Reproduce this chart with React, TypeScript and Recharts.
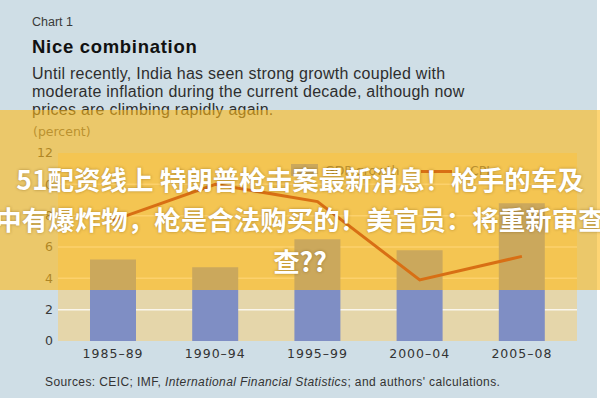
import React from 'react';
import { ComposedChart, Bar, Line, XAxis, YAxis, CartesianGrid } from 'recharts';

const PERIODS = ['1985–89', '1990–94', '1995–99', '2000–04', '2005–08'];
const GDP_GROWTH = [5.2, 4.7, 6.5, 5.8, 8.8];
const CPI = [7.7, 10.0, 8.9, 3.9, 5.4];
const SERIES_NAMES = ['GDP growth', 'CPI'];
const Y_TICKS = [0, 2, 4, 6, 8, 10, 12];
const GRID_VALUES = [2, 4, 6, 8, 10];
const EDGE_TICKS = [0, 1, 2, 3, 4, 5];

const BODY_LINES = [
  'Until recently, India has seen strong growth coupled with',
  'moderate inflation during the current decade, although now',
  'prices are climbing rapidly again.',
];
const BANNER_LINES = [
  '51配资线上 特朗普枪击案最新消息！枪手的车及',
  '中有爆炸物，枪是合法购买的！美官员：将重新审查',
  '查??',
];

const data = PERIODS.map((period, i) => ({ period, gdp: GDP_GROWTH[i], cpi: CPI[i] }));

const BAR_COLOR = '#7f8ec4';
const LINE_COLOR = '#a00010';
const SANS = '"Liberation Sans", Arial, sans-serif';
const WIDE = '"DejaVu Sans", Verdana, sans-serif';

const abs = (left: number, top: number, extra: React.CSSProperties = {}): React.CSSProperties => ({
  position: 'absolute',
  left,
  top,
  ...extra,
});

const App = () => {
  return (
    <div
      style={{
        position: 'fixed',
        left: 0,
        top: 0,
        width: 600,
        height: 400,
        overflow: 'hidden',
        background: '#ffffff',
        fontFamily: SANS,
      }}
    >
      <div style={abs(0, 0, { width: 597, height: 398, background: '#cfdee6' })} />

      <div style={abs(32, 16, { fontSize: 12.5, lineHeight: 1, color: '#3a3a3a' })}>Chart 1</div>
      <div style={abs(32, 38, { fontSize: 18.5, lineHeight: 1, fontWeight: 700, letterSpacing: 0.7, color: '#111' })}>
        Nice combination
      </div>
      <div
        style={abs(32, 65, {
          fontSize: 16,
          lineHeight: '18px',
          letterSpacing: 0.25,
          color: '#2e2e2e',
          whiteSpace: 'nowrap',
        })}
      >
        {BODY_LINES.map((l) => (
          <div key={l}>{l}</div>
        ))}
      </div>
      <div style={abs(33, 126, { fontSize: 12.5, lineHeight: 1, color: '#555', fontFamily: WIDE })}>(percent)</div>

      <div style={abs(0, 0)}>
        <ComposedChart
          width={600}
          height={400}
          data={data}
          margin={{ top: 153, right: 23, bottom: 29, left: 8 }}
        >
          <CartesianGrid
            vertical={false}
            horizontalValues={GRID_VALUES}
            stroke="#faf6ec"
            strokeWidth={1.5}
            fill="#e5d6aa"
          />
          <XAxis
            dataKey="period"
            axisLine={false}
            tickLine={false}
            tickSize={0}
            tickMargin={8}
            height={30}
            interval={0}
            padding={{ left: 4, right: 4 }}
            tick={{ fill: '#333', fontSize: 12.5, fontFamily: WIDE, letterSpacing: 1 }}
          />
          <XAxis
            xAxisId="edge"
            type="number"
            domain={[0, 5]}
            ticks={EDGE_TICKS}
            allowDataOverflow
            tick={false}
            axisLine={false}
            tickLine={{ stroke: '#555', strokeWidth: 2 }}
            tickSize={5}
            mirror
            height={0}
            padding={{ left: 4, right: 4 }}
          />
          <YAxis
            domain={[0, 12]}
            ticks={Y_TICKS}
            interval={0}
            axisLine={false}
            tickLine={false}
            tickSize={0}
            tickMargin={5}
            width={50}
            tick={{ fill: '#3a3a3a', fontSize: 12.5, fontFamily: WIDE }}
          />
          <Bar dataKey="gdp" name={SERIES_NAMES[0]} fill={BAR_COLOR} barSize={46} isAnimationActive={false} />
          <Line
            dataKey="cpi"
            name={SERIES_NAMES[1]}
            type="linear"
            stroke={LINE_COLOR}
            strokeWidth={3}
            dot={false}
            activeDot={false}
            isAnimationActive={false}
          />
        </ComposedChart>
      </div>

      {/* legend */}
      <div style={abs(291, 164, { width: 27, height: 12, background: BAR_COLOR })} />
      <div style={abs(325, 165, { fontSize: 12.5, lineHeight: '12px', color: '#555', fontFamily: WIDE })}>
        {SERIES_NAMES[0]}
      </div>
      <div style={abs(421, 169.5, { width: 31, height: 3, background: LINE_COLOR })} />
      <div style={abs(470, 165, { fontSize: 12.5, lineHeight: '12px', color: '#555', fontFamily: WIDE })}>
        {SERIES_NAMES[1]}
      </div>

      <div
        style={abs(45, 376, {
          fontSize: 12,
          lineHeight: 1,
          letterSpacing: 0.4,
          color: '#333',
          whiteSpace: 'nowrap',
        })}
      >
        Sources: CEIC; IMF, <i>International Financial Statistics</i>; and authors' calculations.
      </div>

      {/* banner overlay */}
      <div style={abs(0, 110, { width: 600, height: 180, background: 'rgba(254,185,23,0.6)' })} />
      {BANNER_LINES.map((line, i) => (
        <div
          key={i}
          style={abs(0, [166, 206, 248][i], {
            width: 600,
            height: 26,
            display: 'flex',
            justifyContent: 'center',
            overflow: 'visible',
          })}
        >
          <span
            style={{
              whiteSpace: 'nowrap',
              fontFamily: '"Noto Sans CJK SC", sans-serif',
              fontWeight: 700,
              fontSize: 26.5,
              lineHeight: '26px',
              color: '#ffffff',
              textShadow: '0 0 3px rgba(90,60,0,0.45)',
            }}
          >
            {line}
          </span>
        </div>
      ))}
    </div>
  );
};

export default App;
